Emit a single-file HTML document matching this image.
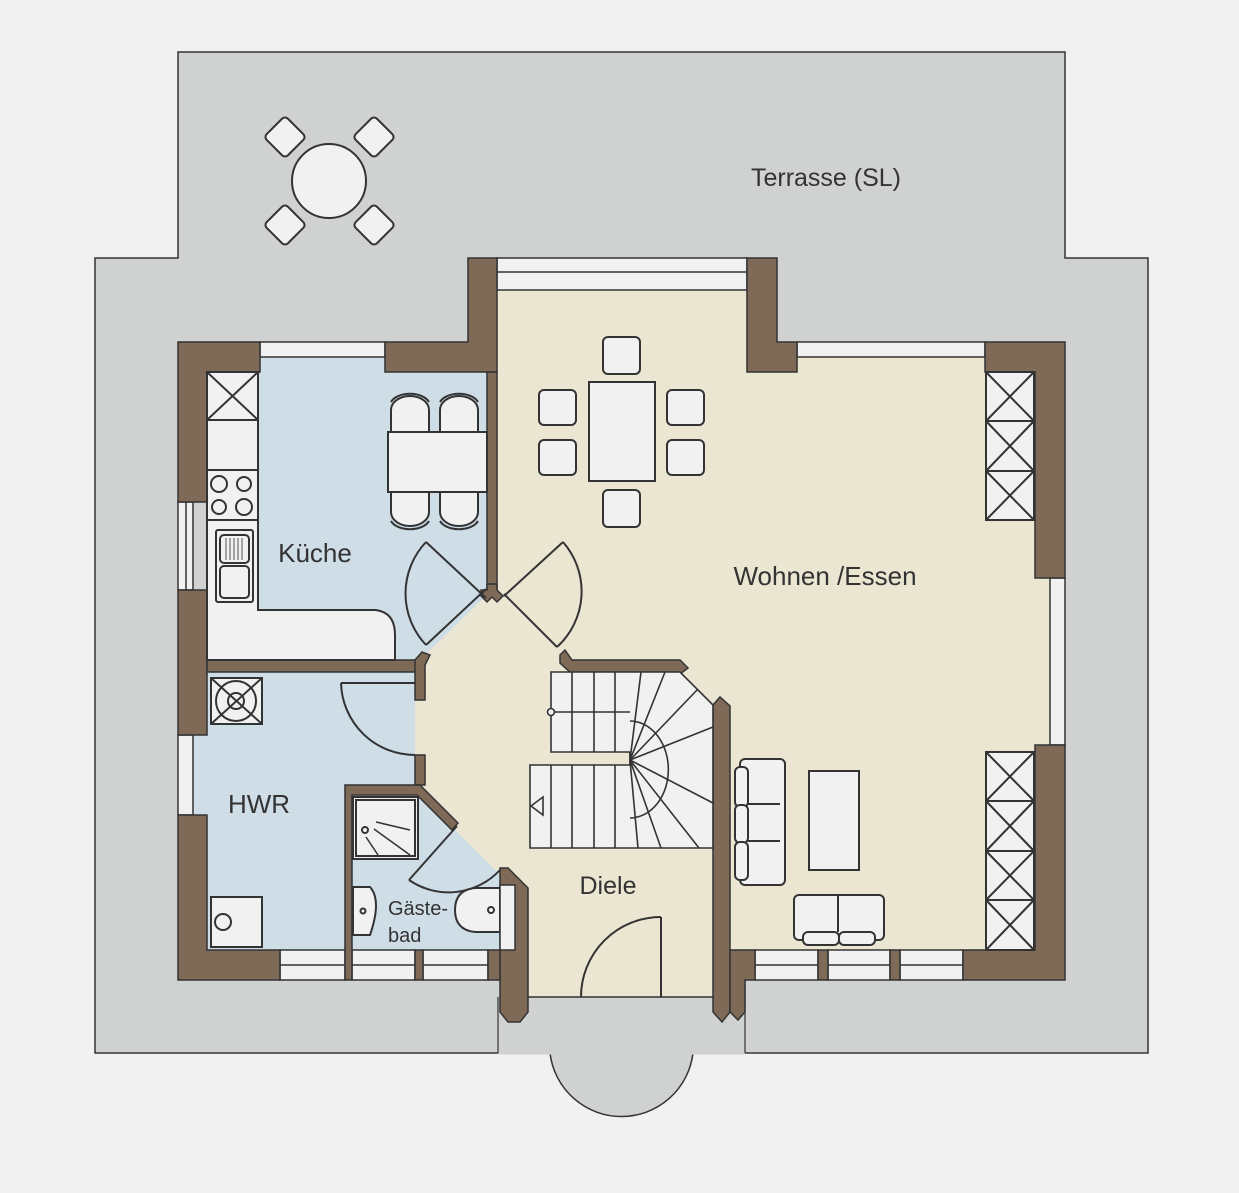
<!DOCTYPE html>
<html><head><meta charset="utf-8"><style>
html,body{margin:0;padding:0;background:#f1f1f1;}
svg{display:block}
text{font-family:"Liberation Sans",sans-serif;fill:#333;}
</style></head><body>
<svg width="1239" height="1193" viewBox="0 0 1239 1193" xmlns="http://www.w3.org/2000/svg">
<rect width="1239" height="1193" fill="#f1f1f1"/>
<!-- terrace -->
<polygon points="178,52 1065,52 1065,258 1148,258 1148,1053 95,1053 95,258 178,258" fill="#d0d2d2" stroke="#333" stroke-width="1.5"/>
<path d="M550,1053 A72,72 0 0 0 693,1053" fill="#d0d2d2" stroke="#333" stroke-width="1.5"/>
<line x1="498" y1="1053" x2="745" y2="1053" stroke="#d0d2d2" stroke-width="3"/>
<line x1="498" y1="997" x2="498" y2="1053" stroke="#333" stroke-width="1.2"/>
<line x1="745" y1="980" x2="745" y2="1053" stroke="#333" stroke-width="1.2"/>
<!-- terrace table -->
<g fill="#f1f1f1" stroke="#333" stroke-width="2">
<circle cx="329" cy="181" r="37"/>
<rect x="270" y="122" width="30" height="30" rx="4" transform="rotate(45 285 137)"/>
<rect x="359" y="122" width="30" height="30" rx="4" transform="rotate(45 374 137)"/>
<rect x="270" y="210" width="30" height="30" rx="4" transform="rotate(45 285 225)"/>
<rect x="359" y="210" width="30" height="30" rx="4" transform="rotate(45 374 225)"/>
</g>
<text x="826" y="186" font-size="25" text-anchor="middle">Terrasse (SL)</text>

<!-- floors -->
<polygon points="497,290 747,290 747,357 1050,357 1050,950 730,950 730,997 500,997 500,875 415,790 415,660 487,595" fill="#ebe6d2"/>
<polygon points="207,357 487,357 487,595 420,660 207,660" fill="#cfdde7"/>
<polygon points="193,672 415,672 415,950 193,950" fill="#cfdde7"/>
<polygon points="352,795 420,795 500,875 500,950 352,950" fill="#cfdde7"/>

<!-- windows -->
<g fill="#f1f1f1" stroke="#333" stroke-width="1.5">
<rect x="497" y="258" width="250" height="32"/><line x1="497" y1="272" x2="747" y2="272"/>
<rect x="797" y="342" width="188" height="15"/>
<rect x="260" y="342" width="125" height="15"/>
<rect x="1050" y="578" width="15" height="167"/>
<rect x="178" y="502" width="15" height="88"/><line x1="186" y1="502" x2="186" y2="590"/>
<rect x="178" y="735" width="15" height="80"/>
<rect x="280" y="950" width="65" height="30"/><line x1="280" y1="965" x2="345" y2="965"/>
<rect x="352" y="950" width="63" height="30"/><line x1="352" y1="965" x2="415" y2="965"/>
<rect x="423" y="950" width="65" height="30"/><line x1="423" y1="965" x2="488" y2="965"/>
<rect x="755" y="950" width="63" height="30"/><line x1="755" y1="965" x2="818" y2="965"/>
<rect x="828" y="950" width="62" height="30"/><line x1="828" y1="965" x2="890" y2="965"/>
<rect x="900" y="950" width="63" height="30"/><line x1="900" y1="965" x2="963" y2="965"/>
</g>

<!-- walls -->
<g fill="#7f6a58" stroke="#333" stroke-width="1.5">
<polygon points="178,342 260,342 260,372 207,372 207,502 178,502"/>
<polygon points="385,342 468,342 468,258 497,258 497,372 385,372"/>
<rect x="487" y="372" width="10" height="218"/>
<polygon points="481,590 487,590 487,584 497,584 497,590 503,596 497,602 492,597 487,602 481,596"/>
<polygon points="747,258 777,258 777,342 797,342 797,372 747,372"/>
<polygon points="985,342 1065,342 1065,578 1035,578 1035,372 985,372"/>
<polygon points="1035,745 1065,745 1065,980 963,980 963,950 1035,950"/>
<rect x="178" y="590" width="29" height="145"/>
<polygon points="178,815 207,815 207,950 280,950 280,980 178,980"/>
<rect x="207" y="660" width="215" height="12"/>
<polygon points="415,660 422,652 430,655 425,665 425,700 415,700"/>
<rect x="415" y="755" width="10" height="30"/>
<polygon points="345,785 420,785 458,823 452,830 417,795 352,795 352,980 345,980"/>
<rect x="415" y="950" width="8" height="30"/>
<polygon points="500,868 508,868 528,888 528,1012 520,1022 508,1022 500,1012"/>
<polygon points="488,950 500,950 500,980 488,980"/>
<polygon points="560,655 565,650 572,660 680,660 688,668 680,674 572,674 560,663"/>
<polygon points="713,705 720,697 730,706 730,1012 722,1022 713,1012"/>
<polygon points="730,950 755,950 755,980 745,980 745,1012 738,1020 730,1012"/>
<rect x="818" y="950" width="10" height="30"/>
<rect x="890" y="950" width="10" height="30"/>
</g>
<line x1="528" y1="997" x2="713" y2="997" stroke="#333" stroke-width="1.5"/>

<!-- kitchen counters -->
<g fill="#f1f1f1" stroke="#333" stroke-width="2">
<path d="M207,372 L258,372 L258,610 L375,610 Q395,612 395,635 L395,660 L207,660 Z"/>
<rect x="207" y="372" width="51" height="48"/>
<line x1="207" y1="372" x2="258" y2="420"/><line x1="258" y1="372" x2="207" y2="420"/>
<rect x="207" y="470" width="51" height="50"/>
<circle cx="219" cy="484" r="8"/><circle cx="244" cy="484" r="7"/>
<circle cx="219" cy="507" r="7"/><circle cx="244" cy="507" r="8"/>
<rect x="216" y="530" width="37" height="72" rx="2"/>
<rect x="220" y="535" width="29" height="28" rx="4"/>
<rect x="220" y="566" width="29" height="32" rx="4"/>
</g>
<g stroke="#555" stroke-width="1"><line x1="226" y1="538" x2="226" y2="560"/><line x1="230" y1="538" x2="230" y2="560"/><line x1="234" y1="538" x2="234" y2="560"/><line x1="238" y1="538" x2="238" y2="560"/><line x1="242" y1="538" x2="242" y2="560"/></g>
<!-- kitchen table -->
<g fill="#f1f1f1" stroke="#333" stroke-width="2">
<path d="M391,432 V410 A19,14 0 0 1 429,410 V432"/><path d="M440,432 V410 A19,14 0 0 1 478,410 V432"/>
<path d="M391,492 V512 A19,14 0 0 0 429,512 V492"/><path d="M440,492 V512 A19,14 0 0 0 478,512 V492"/>
<rect x="388" y="432" width="99" height="60"/>
<path d="M391,402 A20,12 0 0 1 429,402 M440,402 A20,12 0 0 1 478,402 M391,521 A20,12 0 0 0 429,521 M440,521 A20,12 0 0 0 478,521" fill="none"/>
</g>
<text x="315" y="562" font-size="26" text-anchor="middle">Küche</text>

<!-- doors -->
<g fill="none" stroke="#333" stroke-width="2">
<line x1="426" y1="645" x2="486" y2="589"/>
<line x1="426" y1="542" x2="486" y2="598"/>
<path d="M426,542 A75,75 0 0 0 426,645"/>
<line x1="504" y1="596" x2="563" y2="542"/>
<line x1="504" y1="594" x2="557" y2="647"/>
<path d="M563,542 A75,75 0 0 1 557,647"/>
<line x1="341" y1="683" x2="415" y2="683"/>
<path d="M341,683 A74,74 0 0 0 415,755"/>
<line x1="457" y1="826" x2="409" y2="880"/>
<path d="M409,880 A70,70 0 0 0 500,870"/>
<line x1="661" y1="917" x2="661" y2="997"/>
<path d="M661,917 A80,80 0 0 0 581,997"/>
</g>

<!-- HWR -->
<g fill="#f1f1f1" stroke="#333" stroke-width="2">
<rect x="211" y="678" width="51" height="46"/>
<line x1="211" y1="678" x2="262" y2="724"/><line x1="262" y1="678" x2="211" y2="724"/>
<circle cx="236" cy="701" r="20" fill="none"/><circle cx="236" cy="701" r="8" fill="none"/>
<rect x="211" y="897" width="51" height="50"/>
<circle cx="223" cy="922" r="8"/>
</g>
<text x="259" y="813" font-size="26" text-anchor="middle">HWR</text>

<!-- Gästebad -->
<g fill="#f1f1f1" stroke="#333" stroke-width="2">
<rect x="353" y="797" width="65" height="62"/>
<rect x="356" y="800" width="59" height="56"/>
<path d="M353,935 V887 H370 Q382,900 370,935 Z"/>
<path d="M500,888 H475 Q455,890 455,910 Q455,930 475,932 H500 Z"/>
<rect x="500" y="885" width="15" height="65" stroke-width="1.5"/>
<circle cx="363" cy="911" r="2.5"/><circle cx="491" cy="910" r="3"/><circle cx="365" cy="830" r="3"/>
</g>
<g stroke="#333" stroke-width="1.5"><line x1="376" y1="822" x2="410" y2="830"/><line x1="374" y1="829" x2="410" y2="855"/><line x1="366" y1="837" x2="378" y2="855"/></g>
<text x="388" y="915" font-size="20">Gäste-</text>
<text x="388" y="942" font-size="20">bad</text>

<!-- stairs -->
<g fill="#f1f1f1" stroke="#333" stroke-width="1.6">
<polygon points="551,672 680,672 713,705 713,848 530,848 530,765 630,765 630,752 551,752"/>
<line x1="630" y1="752" x2="630" y2="765"/>
<line x1="572" y1="672" x2="572" y2="752"/><line x1="594" y1="672" x2="594" y2="752"/><line x1="615" y1="672" x2="615" y2="752"/>
<line x1="551" y1="765" x2="551" y2="848"/><line x1="572" y1="765" x2="572" y2="848"/><line x1="594" y1="765" x2="594" y2="848"/><line x1="615" y1="765" x2="615" y2="848"/>
<line x1="630" y1="760" x2="641" y2="672"/><line x1="630" y1="760" x2="665" y2="672"/><line x1="630" y1="760" x2="697" y2="690"/><line x1="630" y1="760" x2="713" y2="727"/>
<line x1="630" y1="760" x2="713" y2="803"/><line x1="630" y1="760" x2="699" y2="848"/><line x1="630" y1="760" x2="661" y2="848"/><line x1="630" y1="760" x2="638" y2="848"/>
<path d="M630,721 A38,48 0 0 1 630,818" fill="none"/>
<line x1="551" y1="712" x2="630" y2="712"/>
<circle cx="551" cy="712" r="3.5"/>
<path d="M543,797 L531,806 L543,815 Z"/>
</g>
<text x="608" y="894" font-size="25" text-anchor="middle">Diele</text>

<!-- living -->
<g fill="#f1f1f1" stroke="#333" stroke-width="2">
<rect x="589" y="382" width="66" height="99"/>
<rect x="603" y="337" width="37" height="37" rx="5"/>
<rect x="603" y="490" width="37" height="37" rx="5"/>
<rect x="539" y="390" width="37" height="35" rx="5"/>
<rect x="539" y="440" width="37" height="35" rx="5"/>
<rect x="667" y="390" width="37" height="35" rx="5"/>
<rect x="667" y="440" width="37" height="35" rx="5"/>
<rect x="986" y="372" width="48" height="148"/>
<line x1="986" y1="421" x2="1034" y2="421"/><line x1="986" y1="471" x2="1034" y2="471"/>
<path d="M986,372 L1034,421 M1034,372 L986,421 M986,421 L1034,471 M1034,421 L986,471 M986,471 L1034,520 M1034,471 L986,520"/>
<rect x="986" y="752" width="48" height="198"/>
<line x1="986" y1="801" x2="1034" y2="801"/><line x1="986" y1="851" x2="1034" y2="851"/><line x1="986" y1="900" x2="1034" y2="900"/>
<path d="M986,752 L1034,801 M1034,752 L986,801 M986,801 L1034,851 M1034,801 L986,851 M986,851 L1034,900 M1034,851 L986,900 M986,900 L1034,950 M1034,900 L986,950"/>
<rect x="809" y="771" width="50" height="99"/>
<rect x="740" y="759" width="45" height="126" rx="5"/>
<rect x="735" y="767" width="13" height="40" rx="5"/><rect x="735" y="805" width="13" height="38" rx="5"/><rect x="735" y="842" width="13" height="38" rx="5"/>
<line x1="748" y1="804" x2="780" y2="804"/><line x1="748" y1="841" x2="780" y2="841"/>
<rect x="794" y="895" width="90" height="45" rx="5"/>
<rect x="803" y="932" width="36" height="13" rx="5"/><rect x="839" y="932" width="36" height="13" rx="5"/>
<line x1="838" y1="896" x2="838" y2="932"/>
</g>
<text x="825" y="585" font-size="26" text-anchor="middle">Wohnen /Essen</text>
</svg>
</body></html>
